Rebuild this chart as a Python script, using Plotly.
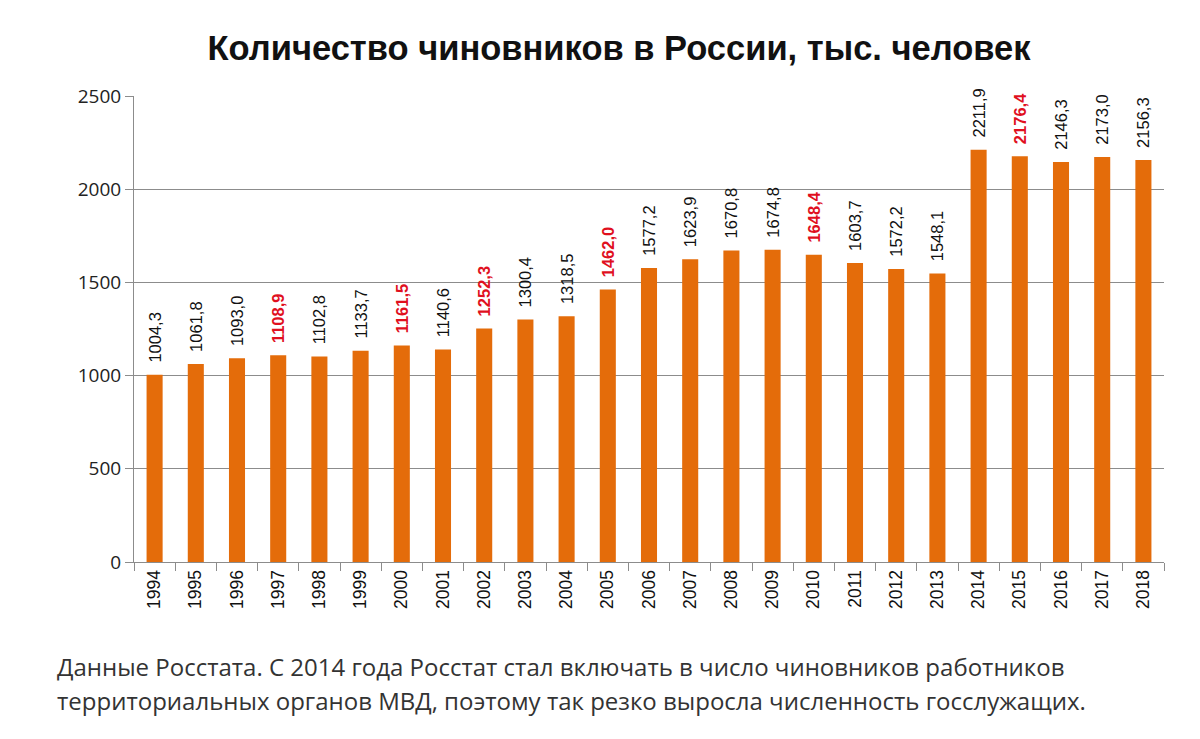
import plotly.graph_objects as go

years = [str(y) for y in range(1994, 2019)]
values = [1004.3, 1061.8, 1093.0, 1108.9, 1102.8, 1133.7, 1161.5, 1140.6, 1252.3, 1300.4,
          1318.5, 1462.0, 1577.2, 1623.9, 1670.8, 1674.8, 1648.4, 1603.7, 1572.2, 1548.1,
          2211.9, 2176.4, 2146.3, 2173.0, 2156.3]
highlight = ["1997", "2000", "2002", "2005", "2010", "2015"]
y_ticks = [0, 500, 1000, 1500, 2000, 2500]

title_text = "Количество чиновников в России, тыс. человек"
caption_1 = "Данные Росстата. С 2014 года Росстат стал включать в число чиновников работников"
caption_2 = "территориальных органов МВД, поэтому так резко выросла численность госслужащих."

BAR = "#E46C0A"
RED = "#E0101E"
GRID = "#8C8C8C"

labels = []
colors = []
for yr, v in zip(years, values):
    s = f"{v:.1f}".replace(".", ",")
    if yr in highlight:
        labels.append("\u00a0\u00a0<b>" + s + "</b>")
        colors.append(RED)
    else:
        labels.append("\u00a0\u00a0" + s)
        colors.append("#111111")

fig = go.Figure(go.Bar(
    x=years, y=values,
    marker=dict(color=BAR, line=dict(width=0)),
    text=labels, textposition="outside", textangle=-90,
    textfont=dict(family="Liberation Sans, Arial, sans-serif", size=16.5, color=colors),
    constraintext="none", cliponaxis=False,
    hoverinfo="x+y",
))

W, H = 1200, 739
OFF = 8  # page offset of the figure

fig.update_layout(
    width=W, height=H,
    paper_bgcolor="white", plot_bgcolor="white",
    margin=dict(l=134 - OFF, r=W + OFF - 1164, t=96 - OFF, b=H + OFF - 562),
    bargap=0.61,
    showlegend=False,
    title=dict(text="<b>" + title_text + "</b>", xref="container", yref="container",
               x=(619 - OFF) / W, y=1 - (48 - OFF) / H, xanchor="center", yanchor="middle",
               font=dict(family="Liberation Sans, Arial, sans-serif",
                         size=34.5, color="#111111")),
    xaxis=dict(type="category", tickson="boundaries", ticks="outside", ticklen=8,
               tickcolor=GRID, showline=True, linecolor=GRID, linewidth=1,
               showgrid=False, tickangle=-90,
               tickfont=dict(family="Liberation Sans, Arial, sans-serif", size=17.5, color="#111111")),
    yaxis=dict(range=[0, 2500], tickvals=y_ticks, ticks="outside", ticklen=8,
               tickcolor=GRID, showline=True, linecolor=GRID, linewidth=1,
               showgrid=True, gridcolor=GRID, gridwidth=1, zeroline=False,
               tickfont=dict(family="Open Sans, sans-serif", size=19, color="#222222")),
    annotations=[
        dict(text=caption_1, xref="paper", yref="paper", x=(55 - 134) / 1030, y=(562 - 666) / 466,
             xanchor="left", yanchor="middle", showarrow=False,
             font=dict(family="Open Sans, sans-serif", size=24, color="#333333")),
        dict(text=caption_2, xref="paper", yref="paper", x=(55 - 134) / 1030, y=(562 - 700) / 466,
             xanchor="left", yanchor="middle", showarrow=False,
             font=dict(family="Open Sans, sans-serif", size=24, color="#333333")),
    ],
)

fig.write_html("out.html")
